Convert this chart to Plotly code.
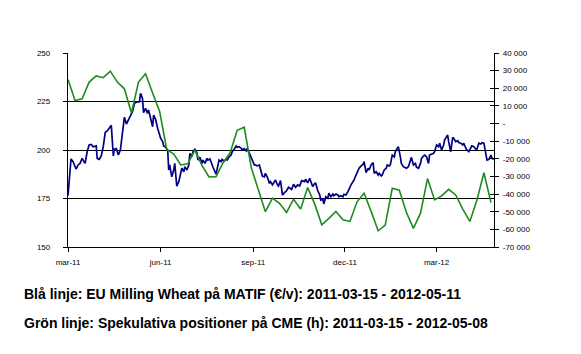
import pandas as pd
import plotly.graph_objects as go

# ---- data ----
start_date = "2011-03-15"
# Blue: EU Milling Wheat MATIF (EUR/t); day offsets from start date
blue_day = [0, 3, 5, 8, 10, 12, 14, 17, 19, 21, 23, 25, 28, 29, 31, 33, 35, 37, 39, 41,
            43, 45, 46, 48, 50, 52, 54, 56, 58, 60, 62, 64, 66, 68, 71, 72, 74, 75, 77, 79,
            80, 82, 84, 85, 87, 89, 90, 92, 94, 95, 97, 99, 100,
            101, 103, 105, 106, 108, 110, 111, 113, 115, 116, 118, 120, 121, 123, 124, 126, 128, 129,
            131, 133, 134, 136, 138, 139, 141, 143, 144, 147, 148, 150, 152, 153, 155, 157, 158, 160,
            162, 163, 165, 167, 168, 170, 172, 173, 175, 177, 178, 180, 181, 183, 185, 186, 188, 190,
            191, 193, 195, 196, 198, 200, 201, 203, 205, 206, 208, 209,
            211, 213, 215, 217, 219, 222, 224, 226, 228, 230, 232, 235, 236, 238, 240, 241, 243, 245,
            246, 248, 250, 251, 253, 254, 256, 258, 259, 261, 263, 264, 266, 268, 269, 271, 273, 274,
            276, 278, 279, 281, 283, 284, 286, 288, 289, 291, 293, 294, 296, 298, 299, 301, 303, 304,
            306, 308, 309, 311, 312, 314,
            316, 317, 319, 320, 322, 324, 325, 327, 328, 330, 331, 333, 335, 336, 338, 340, 341, 343,
            345, 346, 348, 350, 351, 353, 354, 356, 358, 359, 361, 363, 364, 366, 368, 369, 371, 373,
            374, 377, 378, 380, 382, 383, 385, 387, 388, 390, 392, 393, 395, 396, 398, 400, 401, 403,
            405, 406, 408, 410, 411, 413, 415, 416, 418, 420, 421, 423]
blue_val = [176.5, 195.4, 194.0, 190.2, 192.3, 193.1, 195.7, 193.1, 199.1, 202.6, 202.9, 201.7, 202.1, 195.7, 195.2, 196.9, 201.7, 209.1, 209.8, 211.5,
            212.7, 196.9, 200.4, 200.7, 197.4, 200.0, 208.6, 216.9, 213.4, 215.5, 218.0, 219.7, 224.1, 224.6, 224.9, 229.2, 226.6, 219.2, 221.5, 218.9,
            220.6, 216.3, 212.0, 218.0, 215.8, 211.2, 209.4, 206.0, 204.3, 202.1, 201.4, 200.0, 189.7,
            192.3, 186.2, 189.7, 193.1, 181.4, 183.7, 186.6, 190.6, 188.8, 191.4, 189.7, 192.3, 198.3, 196.5, 199.1, 200.4, 198.6, 194.8,
            196.2, 193.1, 194.8, 193.1, 195.7, 194.8, 195.4, 192.3, 191.1, 187.6, 190.6, 194.8, 194.0, 195.2, 194.3, 195.2, 194.8, 196.5,
            197.4, 199.1, 200.4, 202.1, 201.4, 201.7, 200.9, 200.0, 200.7, 199.5, 200.9, 198.3, 196.5, 194.3, 192.3, 192.3, 191.8, 192.3,
            190.0, 186.6, 186.2, 188.0, 185.9, 182.8, 183.7, 182.0, 183.7, 184.5, 182.0, 181.4,
            184.2, 176.8, 178.0, 179.0, 180.8, 179.7, 182.3, 180.8, 182.0, 181.4, 184.2, 183.7, 184.9, 183.1, 185.4, 183.7, 181.1, 182.8,
            182.8, 179.0, 176.8, 174.2, 174.6, 172.2, 175.9, 175.1, 177.7, 175.9, 177.3, 176.4, 177.3, 176.8, 175.9, 176.4, 175.9, 177.2,
            176.8, 178.5, 179.9, 182.0, 183.7, 184.5, 187.1, 189.7, 190.6, 191.8, 192.6, 194.0, 188.3, 190.6, 189.7, 192.3, 193.5, 188.0,
            188.8, 187.1, 188.0, 186.6, 187.1, 189.7,
            190.6, 192.3, 191.8, 192.3, 197.4, 196.5, 199.1, 200.9, 201.7, 196.5, 193.1, 191.4, 190.6, 190.6, 191.4, 194.0, 196.2, 192.3,
            193.1, 191.1, 190.6, 193.1, 195.7, 196.9, 197.4, 196.5, 193.1, 197.4, 197.9, 198.3, 199.1, 202.6, 201.7, 203.5, 200.0, 202.6,
            205.2, 207.7, 204.3, 199.1, 206.5, 206.0, 204.3, 204.8, 203.8, 203.5, 202.6, 203.5, 200.9, 200.0, 199.1, 201.4, 202.1, 201.7,
            200.4, 200.4, 203.5, 203.1, 203.8, 203.5, 196.2, 194.8, 195.2, 197.4, 195.7, 195.2]

# Green: speculative positions CME (contracts), weekly from 2011-03-15
green_val = [25000, 13000, 14000, 23500, 27000, 26000, 29700, 23500, 19700, 6000,
             23500, 28200, 17300, 6900, -14700, -17300, -23500, -22800, -15100, -23700,
             -30300, -30100, -22200, -16600, -3800, -2100, -25000, -37300, -50000, -42300,
             -45200, -50400, -42900, -48500, -36300, -45700, -57400, -53800, -49800, -54600,
             -55500, -44400, -39500, -49800, -60800, -57600, -36700, -37800, -50400, -59400,
             -50800, -31200, -43300, -41000, -37300, -40500, -48500, -55500, -43500, -27900,
             -44800]

x_tick_dates = ["2011-03-15", "2011-06-15", "2011-09-15", "2011-12-15", "2012-03-15"]
x_tick_text = ["mar-11", "jun-11", "sep-11", "dec-11", "mar-12"]
left_ticks = [150, 175, 200, 225, 250]
right_ticks = [40000, 30000, 20000, 10000, 0, -10000, -20000, -30000, -40000, -50000, -60000, -70000]
right_tick_text = ["40 000", "30 000", "20 000", "10 000", "-", "-10 000", "-20 000", "-30 000",
                   "-40 000", "-50 000", "-60 000", "-70 000"]
caption1 = "Blå linje: EU Milling Wheat på MATIF (€/v): 2011-03-15 - 2012-05-11"
caption2 = "Grön linje: Spekulativa positioner på CME (h): 2011-03-15 - 2012-05-08"

# ---- build ----
t0 = pd.Timestamp(start_date)
blue_dates = [t0 + pd.Timedelta(days=d) for d in blue_day]
green_dates = pd.date_range(start_date, periods=len(green_val), freq="7D")

BLUE = "#000080"
GREEN = "#1F8A1F"
tickfont = dict(family="Liberation Sans, Arial, sans-serif", size=8, color="#000000")
capfont = dict(family="Liberation Sans, Arial, sans-serif", size=14, color="#000000")

fig = go.Figure()
fig.add_trace(go.Scatter(x=list(green_dates), y=green_val, mode="lines", yaxis="y2",
                         line=dict(color=GREEN, width=1.6), showlegend=False, hoverinfo="skip"))
fig.add_trace(go.Scatter(x=blue_dates, y=blue_val, mode="lines", yaxis="y",
                         line=dict(color=BLUE, width=1.7), showlegend=False, hoverinfo="skip"))
# helper traces to draw inside tick halves (ticks crossing the axis lines)
fig.add_trace(go.Scatter(x=[], y=[], yaxis="y3", showlegend=False))
fig.add_trace(go.Scatter(x=[], y=[], yaxis="y4", showlegend=False))

x_range = [start_date, "2012-05-11"]

fig.update_layout(
    width=581, height=354,
    margin=dict(l=68, r=87, t=53, b=107),
    paper_bgcolor="white", plot_bgcolor="white",
    xaxis=dict(range=x_range, type="date", tickvals=x_tick_dates, ticktext=x_tick_text,
               showgrid=False, zeroline=False, showline=True, linecolor="black", linewidth=1.3,
               ticks="outside", ticklen=4, tickcolor="black", tickwidth=1,
               tickfont=tickfont, ticklabelstandoff=3),
    yaxis=dict(range=[150, 250], tickvals=left_ticks, side="left",
               showgrid=True, gridcolor="black", gridwidth=1.3, zeroline=False,
               showline=True, linecolor="black", linewidth=1.3,
               ticks="outside", ticklen=4, tickcolor="black", tickwidth=1,
               tickfont=tickfont, ticklabelstandoff=11),
    yaxis2=dict(range=[-70000, 40000], tickvals=right_ticks, ticktext=right_tick_text,
                overlaying="y", side="right", showgrid=False, zeroline=False,
                showline=True, linecolor="black", linewidth=1.3,
                ticks="outside", ticklen=4, tickcolor="black", tickwidth=1,
                tickfont=tickfont, ticklabelstandoff=2),
    yaxis3=dict(range=[150, 250], tickvals=left_ticks, overlaying="y", side="left",
                showgrid=False, zeroline=False, showline=False, showticklabels=False,
                ticks="inside", ticklen=4, tickcolor="black", tickwidth=1),
    yaxis4=dict(range=[-70000, 40000], tickvals=right_ticks, overlaying="y", side="right",
                showgrid=False, zeroline=False, showline=False, showticklabels=False,
                ticks="inside", ticklen=4, tickcolor="black", tickwidth=1),
    annotations=[
        dict(text="<b>" + caption1 + "</b>", xref="paper", yref="paper",
             x=(22 - 68) / 426, y=(247 - 294) / 194, xanchor="left", yanchor="middle",
             showarrow=False, font=capfont),
        dict(text="<b>" + caption2 + "</b>", xref="paper", yref="paper",
             x=(22 - 68) / 426, y=(247 - 323) / 194, xanchor="left", yanchor="middle",
             showarrow=False, font=capfont),
    ],
)

fig.write_html("out.html")
